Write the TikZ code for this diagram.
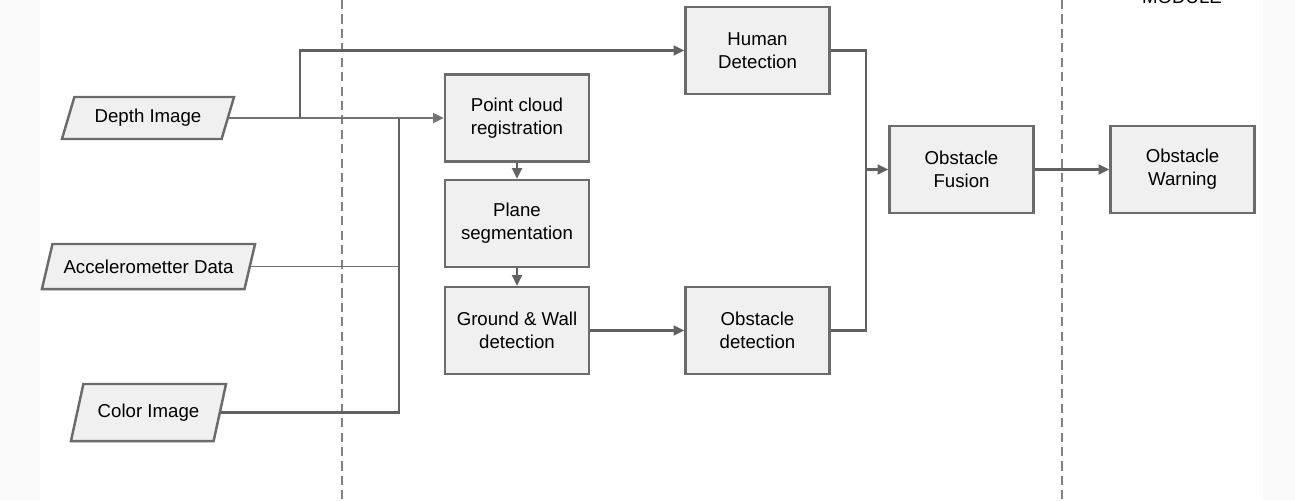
\documentclass[tikz,border=0pt]{standalone}
\usepackage{fontspec}
\setmainfont{Liberation Sans}
\usetikzlibrary{shapes.geometric,arrows.meta}

\tikzset{
  box/.style={draw=black!58, fill=black!6, line width=0.7pt, minimum width=1.44cm, minimum height=0.87cm, align=center, inner sep=1pt, font=\fontsize{5.3}{6.6}\selectfont},
  data/.style={trapezium, trapezium left angle=63, trapezium right angle=117, trapezium stretches body, draw=black!58, fill=black!6, line width=0.7pt, inner xsep=1pt, inner ysep=1pt, font=\fontsize{5.3}{6.6}\selectfont},
  link/.style={draw=black!62, line width=0.65pt},
  thinlink/.style={draw=black!55, line width=0.45pt},
  arr/.style={link, -{Triangle[length=3pt,width=2.8pt]}},
  divider/.style={draw=black!50, line width=0.45pt, dash pattern=on 2.6pt off 1.5pt}
}

\begin{document}
\begin{tikzpicture}[x=0.01cm,y=-0.01cm]
\useasboundingbox (0,0) rectangle (1295,500);
\fill[black!2] (0,0) rectangle (40,500);
\fill[black!2] (1263,0) rectangle (1295,500);
\clip (0,0) rectangle (1295,500);

\node (mod) [anchor=base, font=\fontsize{5.3}{6.6}\selectfont] at (1182,4) {MODULE};

\node (di) [data, minimum width=1.72cm, minimum height=0.42cm] at (148,118) {Depth Image};
\node (ad) [data, minimum width=2.13cm, minimum height=0.45cm] at (148.5,266.5) {Accelerometter Data};
\node (ci) [data, minimum width=1.55cm, minimum height=0.57cm] at (148.5,412.5) {Color Image};

\node (pc) [box] at (517,118) {Point cloud\\registration};
\node (ps) [box] at (517,223.5) {Plane\\segmentation};
\node (gw) [box] at (517,330.5) {Ground \& Wall\\detection};
\node (hd) [box] at (757.5,50.5) {Human\\Detection};
\node (od) [box] at (757.5,330.5) {Obstacle\\detection};
\node (of) [box] at (961.5,169.5) {Obstacle\\Fusion};
\node (ow) [box] at (1182.5,169.5) {Obstacle\\Warning};

\coordinate (d1a) at (342,0);
\coordinate (d1b) at (342,500);
\coordinate (d2a) at (1062,0);
\coordinate (d2b) at (1062,500);
\draw[divider] (d1a) -- (d1b);
\draw[divider] (d2a) -- (d2b);

\coordinate (sp) at (300,118);
\coordinate (bus) at (399,118);
\coordinate (mj) at (866,169.5);

\draw[arr, thinlink] (di.east) -- (pc.west);
\draw[arr] (sp) |- (hd.west);
\draw[link] (bus) |- (ci.east);
\draw[thinlink] (ad.east) -- (ad.east -| bus);
\draw[arr] (pc) -- (ps);
\draw[arr] (ps) -- (gw);
\draw[arr] (gw) -- (od);
\draw[link] (hd.east) -| (mj);
\draw[link] (od.east) -| (mj);
\draw[arr] (mj) -- (of.west);
\draw[arr] (of) -- (ow);

\end{tikzpicture}
\end{document}
